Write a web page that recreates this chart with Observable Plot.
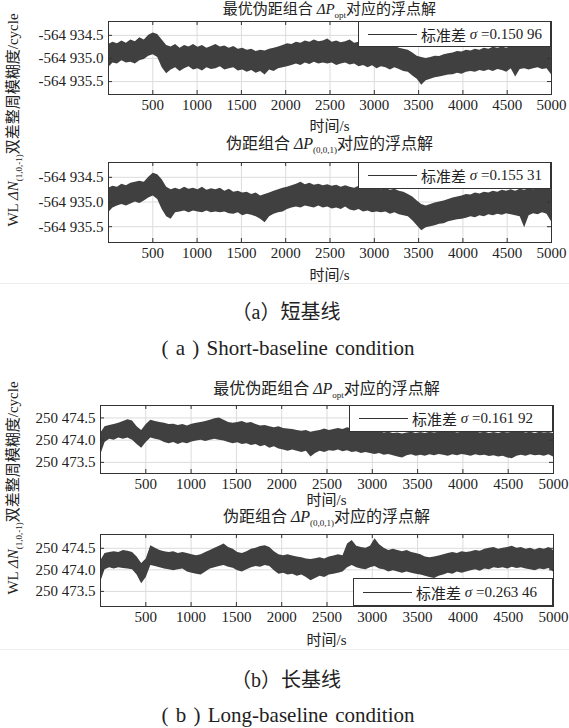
<!DOCTYPE html>
<html><head><meta charset="utf-8">
<script src="https://cdn.jsdelivr.net/npm/d3@7"></script>
<script src="https://cdn.jsdelivr.net/npm/@observablehq/plot@0.6"></script>
<style>
body{margin:0;background:#fff;}
#root{position:relative;width:569px;height:728px;overflow:hidden;font-family:"Liberation Serif","Times New Roman","Noto Sans CJK SC",serif;color:#222;background:#fff;}
.abs{position:absolute;white-space:nowrap;line-height:15px;}
.ctr{transform:translateX(-50%);}
sub{font-size:9px;vertical-align:-4px;line-height:0;}
.legend{position:absolute;background:#fff;border:1px solid #333;box-sizing:border-box;display:flex;align-items:center;font-size:15px;white-space:nowrap;}
.legend .ln{display:inline-block;width:49px;border-top:1px solid #333;margin-left:9px;margin-right:4px;}
.ylab{position:absolute;white-space:nowrap;font-size:15px;line-height:18px;transform:translate(-50%,-50%) rotate(-90deg);}
.sep{position:absolute;left:0;width:569px;height:1px;background:#eee;}
svg{position:absolute;left:0;}
</style></head><body><div id="root"></div><script>
// ---- data (deviations, in cycles, relative to base) ----
const timeGrid = d3.range(100).map(i => i * 5000 / 99); // sampling grid, s
const xTicks = [500, 1000, 1500, 2000, 2500, 3000, 3500, 4000, 4500, 5000];

const baseShort = -564935.0;
const baseLong = 250474.0;
const yTicksShort = [-564935.5, -564935.0, -564934.5];
const yTicksLong = [250473.5, 250474.0, 250474.5];

// panel (a) top: optimal combination
const aOptHi = [0.30,0.35,0.32,0.38,0.33,0.40,0.36,0.45,0.40,0.50,0.55,0.52,0.40,0.28,0.25,0.30,0.22,0.28,0.25,0.30,
 0.24,0.28,0.22,0.26,0.30,0.25,0.27,0.22,0.26,0.20,0.22,0.18,0.20,0.15,0.18,0.16,0.20,0.22,0.25,0.28,
 0.32,0.30,0.35,0.33,0.38,0.35,0.40,0.36,0.38,0.42,0.35,0.38,0.34,0.36,0.40,0.33,0.35,0.30,0.32,0.28,
 0.30,0.26,0.28,0.24,0.27,0.22,0.20,0.18,0.12,0.05,0.02,0.00,0.02,0.05,0.04,0.08,0.10,0.12,0.15,0.14,
 0.18,0.16,0.20,0.18,0.22,0.20,0.24,0.22,0.25,0.22,0.26,0.24,0.27,0.25,0.28,0.24,0.30,0.26,0.28,0.25];
const aOptLo = [-0.20,-0.10,-0.12,-0.05,-0.10,-0.08,-0.12,-0.05,-0.02,0.05,0.08,0.02,-0.20,-0.33,-0.25,-0.20,-0.28,-0.22,-0.18,-0.25,
 -0.22,-0.27,-0.20,-0.24,-0.22,-0.18,-0.25,-0.22,-0.20,-0.27,-0.25,-0.30,-0.26,-0.32,-0.28,-0.36,-0.25,-0.28,-0.22,-0.20,
 -0.18,-0.15,-0.12,-0.15,-0.10,-0.13,-0.08,-0.12,-0.10,-0.12,-0.10,-0.15,-0.12,-0.10,-0.14,-0.12,-0.18,-0.15,-0.20,-0.16,
 -0.22,-0.18,-0.20,-0.25,-0.20,-0.24,-0.28,-0.30,-0.38,-0.45,-0.58,-0.48,-0.45,-0.42,-0.40,-0.38,-0.36,-0.35,-0.32,-0.34,
 -0.30,-0.28,-0.30,-0.26,-0.28,-0.25,-0.28,-0.24,-0.26,-0.30,-0.22,-0.40,-0.24,-0.22,-0.25,-0.22,-0.20,-0.24,-0.22,-0.35];

// panel (a) bottom: (0,0,1) combination
const a001Hi = [0.28,0.32,0.30,0.36,0.33,0.38,0.40,0.42,0.40,0.50,0.58,0.55,0.45,0.30,0.25,0.28,0.25,0.30,0.26,0.28,
 0.25,0.30,0.24,0.27,0.25,0.28,0.22,0.26,0.20,0.22,0.18,0.20,0.15,0.18,0.12,0.15,0.18,0.22,0.25,0.28,
 0.30,0.33,0.36,0.40,0.35,0.38,0.34,0.36,0.33,0.35,0.32,0.34,0.30,0.33,0.30,0.28,0.32,0.28,0.30,0.26,
 0.28,0.25,0.28,0.24,0.26,0.22,0.20,0.15,0.10,0.02,-0.05,-0.08,-0.05,-0.02,0.00,0.02,0.05,0.08,0.10,0.12,
 0.15,0.14,0.18,0.16,0.20,0.18,0.22,0.20,0.24,0.22,0.25,0.22,0.26,0.24,0.27,0.25,0.28,0.26,0.28,0.25];
const a001Lo = [-0.22,-0.12,-0.08,-0.05,-0.08,-0.04,0.00,-0.03,0.02,0.08,0.12,0.05,-0.15,-0.30,-0.35,-0.22,-0.20,-0.18,-0.22,-0.18,
 -0.20,-0.22,-0.18,-0.22,-0.20,-0.22,-0.20,-0.24,-0.25,-0.22,-0.28,-0.25,-0.27,-0.30,-0.35,-0.42,-0.30,-0.25,-0.22,-0.20,
 -0.15,-0.12,-0.10,-0.12,-0.08,-0.10,-0.12,-0.08,-0.12,-0.10,-0.14,-0.12,-0.15,-0.10,-0.16,-0.18,-0.15,-0.20,-0.18,-0.22,
 -0.20,-0.22,-0.20,-0.25,-0.22,-0.26,-0.28,-0.30,-0.38,-0.48,-0.58,-0.52,-0.50,-0.48,-0.45,-0.44,-0.40,-0.38,-0.36,-0.35,
 -0.33,-0.30,-0.32,-0.28,-0.30,-0.26,-0.28,-0.25,-0.27,-0.24,-0.26,-0.28,-0.30,-0.52,-0.28,-0.24,-0.26,-0.22,-0.25,-0.40];

// panel (b) top: optimal combination
const bOptHi = [0.15,0.30,0.33,0.35,0.38,0.42,0.46,0.43,0.30,0.22,0.35,0.45,0.42,0.40,0.38,0.35,0.36,0.33,0.35,0.32,
 0.36,0.38,0.40,0.42,0.45,0.48,0.50,0.45,0.40,0.38,0.40,0.42,0.38,0.40,0.35,0.32,0.33,0.30,0.28,0.30,
 0.26,0.25,0.24,0.22,0.20,0.22,0.18,0.20,0.22,0.25,0.22,0.24,0.26,0.24,0.28,0.25,0.22,0.24,0.20,0.22,
 0.18,0.20,0.16,0.18,0.15,0.16,0.14,0.16,0.18,0.15,0.17,0.15,0.18,0.16,0.18,0.20,0.17,0.19,0.16,0.18,
 0.20,0.17,0.19,0.16,0.18,0.15,0.17,0.15,0.18,0.16,0.18,0.17,0.19,0.16,0.18,0.15,0.18,0.16,0.17,0.15];
const bOptLo = [-0.35,-0.05,0.02,0.00,0.05,0.02,0.05,0.00,-0.10,-0.18,-0.05,0.05,0.02,0.00,-0.05,-0.08,-0.05,-0.10,-0.06,-0.08,
 -0.04,-0.02,0.00,-0.03,0.00,0.02,0.00,-0.02,-0.05,-0.08,-0.06,-0.10,-0.08,-0.12,-0.10,-0.15,-0.12,-0.18,-0.15,-0.20,
 -0.22,-0.25,-0.22,-0.25,-0.28,-0.25,-0.38,-0.30,-0.25,-0.28,-0.24,-0.25,-0.22,-0.26,-0.24,-0.28,-0.26,-0.30,-0.28,-0.30,
 -0.32,-0.30,-0.34,-0.32,-0.35,-0.38,-0.40,-0.35,-0.33,-0.36,-0.34,-0.36,-0.33,-0.35,-0.32,-0.34,-0.36,-0.33,-0.35,-0.32,
 -0.34,-0.36,-0.33,-0.35,-0.34,-0.37,-0.35,-0.38,-0.36,-0.40,-0.42,-0.36,-0.34,-0.36,-0.33,-0.35,-0.34,-0.36,-0.33,-0.38];

// panel (b) bottom: (0,0,1) combination
const b001Hi = [0.20,0.38,0.40,0.42,0.40,0.45,0.43,0.40,0.30,0.15,0.25,0.56,0.50,0.45,0.42,0.40,0.42,0.38,0.40,0.38,
 0.35,0.33,0.35,0.40,0.45,0.50,0.55,0.60,0.52,0.48,0.40,0.38,0.42,0.48,0.50,0.54,0.56,0.52,0.42,0.35,
 0.33,0.35,0.32,0.30,0.28,0.25,0.24,0.26,0.28,0.25,0.30,0.32,0.35,0.33,0.60,0.68,0.55,0.52,0.50,0.55,
 0.72,0.58,0.50,0.45,0.48,0.45,0.42,0.45,0.40,0.38,0.35,0.30,0.28,0.30,0.32,0.35,0.38,0.40,0.38,0.42,
 0.40,0.42,0.45,0.43,0.48,0.50,0.52,0.48,0.50,0.52,0.55,0.50,0.52,0.48,0.50,0.46,0.50,0.48,0.52,0.45];
const b001Lo = [-0.30,0.00,0.05,0.02,0.05,0.03,0.02,0.00,-0.12,-0.32,-0.18,0.10,0.08,0.05,0.02,0.00,-0.02,0.00,0.02,-0.05,
 -0.08,-0.10,-0.12,-0.05,0.02,0.05,0.08,0.10,0.06,0.04,-0.02,-0.05,0.00,0.05,0.08,0.06,0.10,0.08,-0.02,-0.10,
 -0.08,-0.12,-0.10,-0.15,-0.12,-0.18,-0.25,-0.20,-0.15,-0.18,-0.12,-0.10,-0.08,-0.05,0.05,0.10,0.05,0.02,0.00,0.05,
 0.08,0.02,0.00,-0.05,-0.02,-0.05,-0.08,-0.05,-0.08,-0.10,-0.12,-0.15,-0.18,-0.20,-0.15,-0.12,-0.08,-0.10,-0.05,-0.08,
 -0.05,-0.02,0.00,-0.03,0.02,0.00,0.05,0.03,0.05,0.02,0.06,0.03,0.05,0.02,0.00,-0.02,0.02,0.00,0.03,-0.05];

const sigmaLabels = ["0.150 96", "0.155 31", "0.161 92", "0.263 46"];

// ---- layout ----
const root = document.getElementById("root");
function add(html, cls, style){const d=document.createElement("div");d.className=cls;d.innerHTML=html;Object.assign(d.style,style);root.appendChild(d);return d;}
function fmt(v){const s=Math.abs(v).toFixed(1);const [i,f]=s.split(".");const g=i.slice(0,i.length-3)+" "+i.slice(-3);return (v<0?"-":"")+g+"."+f;}
const serif = '"Liberation Serif", "Times New Roman", serif';

const titleOpt = '最优伪距组合 <i>ΔP</i><sub>opt</sub>对应的浮点解';
const title001 = '伪距组合 <i>ΔP</i><sub>(0,0,1)</sub>对应的浮点解';

const panels = [
 {hi:aOptHi, lo:aOptLo, base:baseShort, yt:yTicksShort, dom:[-564935.78,-564934.2], L:108, R:551, T:21, B:94, title:titleOpt, ty:10, tfs:15, xl:126, leg:{l:358,t:21,r:551,b:47}, sig:sigmaLabels[0]},
 {hi:a001Hi, lo:a001Lo, base:baseShort, yt:yTicksShort, dom:[-564935.82,-564934.2], L:108, R:551, T:162, B:242, title:title001, ty:144, tfs:16, xl:275, leg:{l:358,t:162,r:551,b:189}, sig:sigmaLabels[1]},
 {hi:bOptHi, lo:bOptLo, base:baseLong, yt:yTicksLong, dom:[250473.25,250474.78], L:100, R:553, T:405, B:473, title:titleOpt, ty:389, tfs:16, xl:500, leg:{l:349,t:405,r:553,b:432}, sig:sigmaLabels[2]},
 {hi:b001Hi, lo:b001Lo, base:baseLong, yt:yTicksLong, dom:[250473.15,250474.82], L:100, R:553, T:534, B:606, title:title001, ty:517, tfs:16, xl:640, leg:{l:353,t:578,r:553,b:606}, sig:sigmaLabels[3]}
];

for (const p of panels) {
  const data = timeGrid.map((t,i)=>({t, hi:p.base+p.hi[i], lo:p.base+p.lo[i]}));
  const mt = 8, mb = 22, H = p.B - p.T, W = p.R - p.L;
  const svg = Plot.plot({
    width: 569, height: mt + H + mb,
    marginLeft: p.L, marginRight: 569 - p.R, marginTop: mt, marginBottom: mb,
    x: {domain: [0, 5000]}, y: {domain: p.dom},
    style: {fontFamily: serif, fontSize: "15px", color: "#222", background: "transparent", overflow: "visible"},
    marks: [
      Plot.gridX(xTicks.slice(0, -1), {stroke: "#dcdcdc", strokeOpacity: 1}),
      Plot.gridY(p.yt, {stroke: "#dcdcdc", strokeOpacity: 1}),
      Plot.areaY(data, {x: "t", y1: "lo", y2: "hi", fill: "#404040", clip: true}),
      Plot.ruleX(xTicks, {x: d => d, insetTop: H - 4, stroke: "#333"}),
      Plot.ruleX(xTicks, {x: d => d, insetBottom: H - 4, stroke: "#333"}),
      Plot.ruleY(p.yt, {y: d => d, insetRight: W - 4, stroke: "#333"}),
      Plot.ruleY(p.yt, {y: d => d, insetLeft: W - 4, stroke: "#333"}),
      Plot.axisX(xTicks, {tickSize: 0, tickPadding: 5, label: null, fontSize: 15, fontFamily: serif, tickFormat: d => String(d)}),
      Plot.axisY(p.yt, {tickSize: 0, tickPadding: 5, label: null, tickFormat: fmt, fontSize: 15, fontFamily: serif}),
      Plot.frame({stroke: "#333"})
    ]
  });
  svg.style.top = (p.T - mt) + "px";
  root.appendChild(svg);
  const cx = (p.L + p.R) / 2;
  add(p.title, "abs ctr", {left: cx + "px", top: (p.ty - 8) + "px", fontSize: p.tfs + "px"});
  add("时间/s", "abs ctr", {left: cx + "px", top: (p.xl - 7) + "px", fontSize: "15px", lineHeight: "14px"});
  add('<span class="ln"></span>标准差 <i>&nbsp;σ</i>&nbsp;=' + p.sig, "legend", {left: p.leg.l + "px", top: p.leg.t + "px", width: (p.leg.r - p.leg.l) + "px", height: (p.leg.b - p.leg.t) + "px"});
}

const ylabel = 'WL <i>ΔN</i><sub>(1,0,-1)</sub>双差整周模糊度/cycle';
add(ylabel, "ylab", {left: "13px", top: "120px"});
add(ylabel, "ylab", {left: "13px", top: "488px"});

add("（a）短基线", "abs ctr", {left: "286px", top: "301px", fontSize: "20px", lineHeight: "22px"});
add("( a ) Short-baseline condition", "abs ctr", {left: "288px", top: "337px", fontSize: "21px", lineHeight: "22px", wordSpacing: "2px"});
add("（b）长基线", "abs ctr", {left: "286px", top: "669px", fontSize: "20px", lineHeight: "22px"});
add("( b ) Long-baseline condition", "abs ctr", {left: "288px", top: "704px", fontSize: "21px", lineHeight: "22px", wordSpacing: "2px"});
add("", "sep", {top: "283px"});
add("", "sep", {top: "649px"});
</script></body></html>
